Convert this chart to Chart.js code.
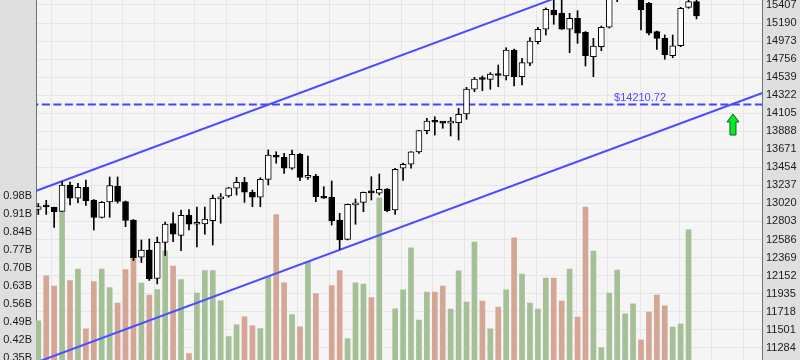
<!DOCTYPE html>
<html><head><meta charset="utf-8">
<script src="https://cdn.jsdelivr.net/npm/chart.js@4/dist/chart.umd.min.js"></script>
<style>html,body{margin:0;padding:0;background:#dfdfdf;overflow:hidden}canvas{display:block}</style>
</head><body>
<canvas id="c" width="800" height="360"></canvas>
<script>
// ---- data (prices) ----
const opens  = [12947,12985,12973,12925,13242,13082,13214,13061,12853,13037,13230,13041,12821,12372,12460,12117,12552,12778,12636,12878,12769,12772,12812,13075,13109,13202,13274,13154,13094,13310,13590,13575,13443,13611,13334,13350,13101,13094,12821,12588,13003,13033,13161,13142,13193,12941,13443,13491,13639,13895,14009,13997,13985,13991,14096,14393,14523,14513,14571,14553,14866,14544,14706,14965,15115,15347,15307,15115,15247,15079,14785,14905,15139,15500,15540,15560,15520,15427,15086,15006,14797,14917,15379,15447];
const highs  = [13019,13058,12977,13281,13278,13262,13302,13067,13043,13338,13338,13049,12827,12580,12592,12616,12796,12911,12941,12947,12977,12977,13121,13139,13214,13334,13334,13181,13329,13663,13642,13623,13663,13623,13590,13370,13221,13290,12901,13013,13073,13157,13341,13374,13200,13443,13506,13645,13900,14044,14063,13999,14056,14164,14417,14537,14553,14593,14685,14893,14878,14766,15014,15139,15371,15480,15470,15307,15338,15088,15006,15154,15510,15560,15620,15640,15540,15440,15094,15046,15046,15379,15479,15470];
const lows   = [12887,12887,12730,12923,13001,13029,12995,12700,12845,12853,13025,12740,12333,12309,12093,12051,12393,12560,12451,12700,12496,12649,12520,12781,13094,13121,13033,12981,12981,13242,13503,13382,13430,13293,13310,13041,13080,12760,12468,12580,12769,12920,13061,13121,12920,12889,13296,13443,13623,13855,13843,13924,13831,13783,14032,14364,14376,14393,14424,14505,14433,14445,14677,14938,15046,15175,15112,14833,14946,14673,14544,14857,15130,15447,15500,15520,15107,15046,14874,14754,14773,14905,15367,15239];
const closes = [12983,12977,12920,13242,13082,13214,13053,12853,13033,13236,13043,12815,12367,12460,12111,12552,12772,12649,12877,12769,12788,12833,13082,13095,13209,13274,13154,13094,13310,13602,13575,13443,13611,13334,13350,13101,13082,12812,12580,13009,13018,13154,13147,13190,12932,13430,13491,13642,13897,14012,13997,13985,13997,14092,14396,14517,14511,14577,14559,14866,14544,14713,14974,15115,15355,15287,15115,15247,15067,14797,14914,15139,15490,15540,15600,15620,15347,15067,15006,14805,14917,15367,15447,15275];
// volume in billions of shares
const volumes = [0.494,0.669,0.629,0.918,0.650,0.695,0.463,0.646,0.695,0.623,0.563,0.693,0.739,0.641,0.594,0.615,0.766,0.707,0.654,0.367,0.602,0.689,0.689,0.572,0.433,0.479,0.510,0.475,0.464,0.665,0.906,0.642,0.518,0.471,0.724,0.600,0.30,0.631,0.689,0.425,0.642,0.637,0.584,0.971,0.30,0.541,0.614,0.777,0.497,0.606,0.606,0.629,0.540,0.688,0.567,0.800,0.571,0.463,0.548,0.614,0.816,0.676,0.563,0.540,0.660,0.660,0.571,0.695,0.509,0.936,0.765,0.390,0.602,0.691,0.521,0.560,0.420,0.528,0.594,0.552,0.470,0.482,0.847,null];
// tick labels
const priceTicks = [11284,11501,11718,11935,12152,12369,12586,12803,13020,13237,13454,13671,13888,14105,14322,14539,14756,14973,15190,15407];
const volumeTicks = [0.35,0.42,0.49,0.56,0.63,0.70,0.77,0.84,0.91,0.98];
// week separators (bar index units)
const weekGrid = [1.69,6.73,10.64,14.63,19.76,23.76,28.8,32.7,36.7,41.8,45.75,49.7,53.7,58.85,62.85,67.9,71.75,75.9,80.9,84.9,88.9];
// support / channel levels
const levelPrice = 14210.72;
const channelIdx = [-5, 95];
const upperChannel = [13004, 16544];
const lowerChannel = [10939, 14479];
const signalIdx = 87.6;
const signalTop = 14096;
const signalBottom = 13843;

const idx = opens.map((_, i) => i);
const up = idx.map(i => closes[i] >= opens[i]);

const bgPlugin = {
  id: 'bg',
  beforeDraw(chart) {
    const {ctx, chartArea: a} = chart;
    ctx.save();
    ctx.fillStyle = '#dfdfdf';
    ctx.fillRect(0, 0, chart.width, chart.height);
    ctx.fillStyle = '#f5f5f5';
    ctx.fillRect(a.left, a.top, a.right - a.left, a.bottom - a.top);
    ctx.restore();
  }
};
const annoPlugin = {
  id: 'anno',
  afterDatasetsDraw(chart) {
    const {ctx} = chart;
    const xs = chart.scales.x, ys = chart.scales.yp;
    const ly = ys.getPixelForValue(levelPrice);
    ctx.save();
    ctx.font = '11px "Liberation Sans", Arial, sans-serif';
    ctx.fillStyle = '#4a4aff';
    ctx.textAlign = 'left';
    ctx.textBaseline = 'alphabetic';
    ctx.fillText('$' + levelPrice.toFixed(2), xs.getPixelForValue(72.6), ly - 3.5);
    // up arrow
    const cx = xs.getPixelForValue(signalIdx);
    const t = ys.getPixelForValue(signalTop), b = ys.getPixelForValue(signalBottom);
    const hh = 8, hw = 6, sw = 3;
    ctx.beginPath();
    ctx.moveTo(cx, t);
    ctx.lineTo(cx + hw, t + hh);
    ctx.lineTo(cx + sw, t + hh);
    ctx.lineTo(cx + sw, b);
    ctx.lineTo(cx - sw, b);
    ctx.lineTo(cx - sw, t + hh);
    ctx.lineTo(cx - hw, t + hh);
    ctx.closePath();
    ctx.fillStyle = '#00ee22';
    ctx.fill();
    ctx.lineWidth = 1;
    ctx.strokeStyle = '#225522';
    ctx.stroke();
    ctx.restore();
  }
};

const tickFont = {family: '"Liberation Sans", Arial, sans-serif', size: 11};

new Chart(document.getElementById('c'), {
  type: 'bar',
  data: {
    datasets: [
      {
        type: 'bar', label: 'bodies', order: 0, yAxisID: 'yp', grouped: false,
        data: idx.map(i => ({x: i, y: [opens[i], closes[i]]})),
        backgroundColor: idx.map(i => up[i] ? '#ffffff' : '#000000'),
        borderColor: '#000000', borderWidth: 1, borderSkipped: false,
        barThickness: 6, minBarLength: 2
      },
      {
        type: 'bar', label: 'wicks', order: 1, yAxisID: 'yp', grouped: false,
        data: idx.map(i => ({x: i, y: [lows[i], highs[i]]})),
        backgroundColor: '#000000', barThickness: 1, borderWidth: 0
      },
      {
        type: 'line', label: 'level', order: 2, yAxisID: 'yp',
        data: [{x: -1, y: levelPrice}, {x: 93, y: levelPrice}],
        borderColor: '#4444ff', borderWidth: 2, borderDash: [8, 3.5], pointRadius: 0
      },
      {
        type: 'line', label: 'upper', order: 3, yAxisID: 'yp',
        data: channelIdx.map((x, k) => ({x, y: upperChannel[k]})),
        borderColor: '#4d4dff', borderWidth: 2, pointRadius: 0
      },
      {
        type: 'line', label: 'lower', order: 3, yAxisID: 'yp',
        data: channelIdx.map((x, k) => ({x, y: lowerChannel[k]})),
        borderColor: '#4d4dff', borderWidth: 2, pointRadius: 0
      },
      {
        type: 'bar', label: 'volume', order: 5, yAxisID: 'yv', grouped: false,
        data: idx.map(i => ({x: i, y: volumes[i]})),
        backgroundColor: idx.map(i => up[i] ? '#a5bf97' : '#d4a794'),
        borderWidth: 0, barThickness: 5
      }
    ]
  },
  options: {
    responsive: false, animation: false,
    layout: {padding: 0},
    plugins: {legend: {display: false}, tooltip: {enabled: false}},
    scales: {
      x: {
        type: 'linear', min: -0.29, max: 91.26, offset: false,
        grid: {offset: false, color: '#e6e6e6', drawTicks: false},
        border: {display: false},
        ticks: {display: false},
        afterBuildTicks: s => { s.ticks = weekGrid.map(v => ({value: v})); },
        afterFit: s => { s.height = 0; }
      },
      yp: {
        type: 'linear', position: 'right', min: 11136.35, max: 15467.15,
        grid: {color: '#e6e6e6', drawTicks: false},
        border: {display: true, color: '#6e7370', width: 1},
        ticks: {color: '#1a1a1a', font: tickFont, padding: 4, callback: v => String(v)},
        afterBuildTicks: s => { s.ticks = priceTicks.map(v => ({value: v})); },
        afterFit: s => { s.width = 38; s.paddingTop = 0; s.paddingBottom = 0; }
      },
      yv: {
        type: 'linear', position: 'left', min: 0.3422, max: 1.739,
        grid: {display: false, drawTicks: false},
        border: {display: true, color: '#6e7370', width: 1},
        ticks: {color: '#1a1a1a', font: tickFont, padding: 4, callback: v => v.toFixed(2) + 'B'},
        afterBuildTicks: s => { s.ticks = volumeTicks.map(v => ({value: v})); },
        afterFit: s => { s.width = 36; s.paddingTop = 0; s.paddingBottom = 0; }
      }
    }
  },
  plugins: [bgPlugin, annoPlugin]
});
</script>
</body></html>
